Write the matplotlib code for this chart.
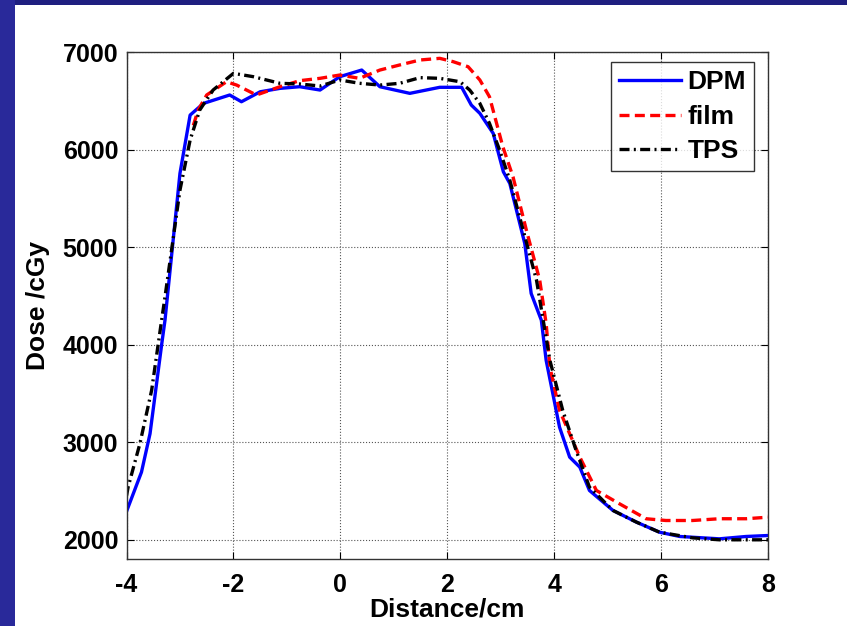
import matplotlib
matplotlib.use('Agg')
import matplotlib.pyplot as plt
import matplotlib.patches as mpatches

plt.rcParams['font.family'] = ['Liberation Sans', 'DejaVu Sans']
plt.rcParams['font.weight'] = 'bold'
plt.rcParams['axes.unicode_minus'] = False

# DPM (Monte Carlo)
dpm_x = [-4.0, -3.72, -3.56, -3.34, -3.28, -3.0, -2.81, -2.56, -2.07, -1.85, -1.5, -1.13,
         -0.76, -0.38, -0.01, 0.40, 0.74, 1.30, 1.86, 2.27, 2.45, 2.61, 2.86, 3.05, 3.17,
         3.45, 3.57, 3.76, 3.85, 4.10, 4.29, 4.48, 4.66, 5.10, 5.54, 5.97, 6.35, 7.09, 7.59, 8.0]
dpm_y = [2290, 2694, 3088, 4012, 4252, 5758, 6356, 6476, 6562, 6493, 6595, 6630,
         6647, 6613, 6750, 6818, 6647, 6579, 6641, 6641, 6459, 6374, 6168, 5774, 5655,
         5039, 4526, 4252, 3841, 3156, 2848, 2745, 2506, 2301, 2181, 2078, 2034, 2010, 2034, 2044]

# film measurement
film_x = [-2.75, -2.66, -2.50, -2.13, -1.94, -1.57, -1.13, -0.76, -0.38, -0.01, 0.36, 0.74,
          1.11, 1.49, 1.86, 2.11, 2.39, 2.61, 2.79, 2.89, 3.04, 3.23, 3.48, 3.73, 3.85,
          3.92, 4.10, 4.29, 4.48, 4.79, 5.22, 5.72, 6.09, 6.59, 7.09, 7.59, 8.0]
film_y = [6250, 6407, 6562, 6698, 6664, 6562, 6647, 6709, 6733, 6767, 6733, 6818,
          6870, 6921, 6938, 6904, 6852, 6716, 6544, 6339, 6031, 5723, 5176, 4662, 4218,
          3772, 3328, 3088, 2848, 2506, 2370, 2216, 2198, 2198, 2216, 2216, 2232]

# TPS calculation
tps_x = [-4.0, -3.97, -3.75, -3.53, -3.37, -3.28, -3.0, -2.81, -2.63, -2.38, -2.0, -1.63,
         -1.13, -0.76, -0.38, -0.01, 0.36, 0.74, 1.11, 1.49, 1.86, 2.24, 2.42, 2.61, 2.79,
         2.98, 3.17, 3.42, 3.67, 3.92, 4.16, 4.41, 4.66, 5.10, 5.54, 5.97, 6.59, 7.09, 8.0]
tps_y = [2450, 2540, 2985, 3533, 4149, 4491, 5586, 6100, 6408, 6613, 6784, 6750,
         6682, 6675, 6654, 6716, 6682, 6664, 6682, 6740, 6733, 6698, 6613, 6476, 6271,
         5997, 5689, 5176, 4662, 3841, 3328, 2917, 2540, 2301, 2181, 2078, 2020, 2000, 2000]

fig = plt.figure(figsize=(8.47, 6.26), dpi=100)
fig.patch.set_facecolor('white')
# slide frame
fig.add_artist(mpatches.Rectangle((0, 1 - 5 / 626), 1, 5 / 626, transform=fig.transFigure,
                                  facecolor='#1f1f80', edgecolor='none'))
fig.add_artist(mpatches.Rectangle((0, 0), 15 / 847, 1, transform=fig.transFigure,
                                  facecolor='#29299a', edgecolor='none'))

ax = fig.add_axes([126.5 / 847, 1 - 559.3 / 626, (768 - 126.5) / 847, (559.3 - 52.3) / 626])
ax.plot(dpm_x, dpm_y, '-', color='#0000ff', lw=2.4, label='DPM')
ax.plot(film_x, film_y, '--', color='#ff0000', lw=2.4, dashes=(3, 1.6), label='film')
ax.plot(tps_x, tps_y, '-.', color='black', lw=2.4, dashes=(3, 1.3, 0.6, 1.3), label='TPS')

ax.set_xlim(-4, 8)
ax.set_ylim(1800, 7000)
ax.set_xticks([-4, -2, 0, 2, 4, 6, 8])
ax.set_yticks([2000, 3000, 4000, 5000, 6000, 7000])
ax.grid(True, linestyle=':', color='#555555', linewidth=0.8)
ax.tick_params(direction='in', length=5, top=True, right=True, labelsize=18)
ax.tick_params(axis='x', pad=10)
ax.tick_params(axis='y', pad=6)
for s in ax.spines.values():
    s.set_color('#333333')
    s.set_linewidth(1.0)
for lab in ax.get_xticklabels() + ax.get_yticklabels():
    lab.set_fontweight('bold')

ax.set_xlabel('Distance/cm', fontsize=19, fontweight='bold', labelpad=0)
ax.set_ylabel('Dose /cGy', fontsize=19, fontweight='bold', labelpad=9)

leg = ax.legend(loc='upper right', bbox_to_anchor=(0.978, 0.98), fontsize=19, frameon=True,
                fancybox=False, edgecolor='black', handlelength=2.35, handletextpad=0.25,
                labelspacing=0.4, borderpad=0.3, borderaxespad=0.0)
leg.get_frame().set_linewidth(1.0)
for t in leg.get_texts():
    t.set_fontweight('bold')

fig.savefig('out.png', dpi=100)
